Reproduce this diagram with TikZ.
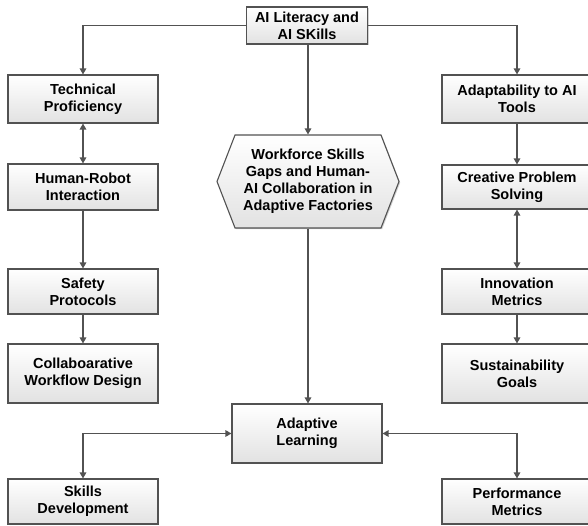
\documentclass[tikz,border=0pt]{standalone}
\usepackage{fontspec}
\setmainfont{Liberation Sans}
\usetikzlibrary{arrows.meta,shadows,shapes.symbols}
\definecolor{edgecol}{HTML}{525252}
\definecolor{fillbot}{HTML}{E2E2E2}
\begin{document}
\begin{tikzpicture}[x=1pt,y=-1pt,
  every node/.style={font=\bfseries\fontsize{14.5}{17}\selectfont, align=center, inner sep=0pt},
  boxstyle/.style={draw=edgecol, line width=1.1pt, top color=white, bottom color=fillbot,
     drop shadow={shadow xshift=1.2pt, shadow yshift=-1.2pt, fill=black!30, opacity=0.6}},
  stdbox/.style={boxstyle, minimum width=150pt},
  conn/.style={draw=edgecol, line width=1.3pt, -{Triangle[length=6pt,width=6.5pt]}},
  connboth/.style={draw=edgecol, line width=1.3pt, {Triangle[length=6pt,width=6.5pt]}-{Triangle[length=6pt,width=6.5pt]}}
]
\useasboundingbox (0,0) rectangle (588,526);

\node[boxstyle, minimum width=121pt, minimum height=37pt] (top) at (307,25.5) {AI Literacy and\\AI SKills};

\node[stdbox, minimum height=48pt] (TP) at (83,99) {Technical\\Proficiency};
\node[stdbox, minimum height=46pt] (HR) at (83,187) {Human-Robot\\Interaction};
\node[stdbox, minimum height=45pt] (SP) at (83,291.5) {Safety\\Protocols};
\node[stdbox, minimum height=59pt] (CW) at (83,373.5) {Collaboarative\\Workflow Design};
\node[stdbox, minimum height=45pt] (SD) at (83,501.5) {Skills\\Development};

\node[stdbox, minimum height=48pt] (AT) at (517,99) {Adaptability to AI\\Tools};
\node[stdbox, minimum height=44pt] (CP) at (517,187) {Creative Problem\\Solving};
\node[stdbox, minimum height=45pt] (IM) at (517,291.5) {Innovation\\Metrics};
\node[stdbox, minimum height=59pt] (SG) at (517,373.5) {Sustainability\\Goals};
\node[stdbox, minimum height=45pt] (PM) at (517,501.5) {Performance\\Metrics};

\node[stdbox, minimum height=59pt] (AL) at (307,433.5) {Adaptive\\Learning};

\node[boxstyle, shape=signal, signal to=west and east, signal pointer angle=137.6,
      minimum width=182pt, minimum height=93pt] (hex) at (308,181.5)
  {Workforce Skills\\Gaps and Human-\\AI Collaboration in\\Adaptive Factories};

\draw[conn] (top.west) -| (TP.north);
\draw[conn] (top.east) -| (AT.north);
\draw[conn] (top.south -| hex.north) -- (hex.north);
\draw[conn] (hex.south) -- (AL.north -| hex.south);

\draw[connboth] (TP) -- (HR);
\draw[conn] (HR) -- (SP);
\draw[conn] (SP) -- (CW);

\draw[conn] (AT) -- (CP);
\draw[connboth] (CP) -- (IM);
\draw[conn] (IM) -- (SG);

\draw[connboth] (AL.west) -| (SD.north);
\draw[connboth] (AL.east) -| (PM.north);
\end{tikzpicture}
\end{document}
